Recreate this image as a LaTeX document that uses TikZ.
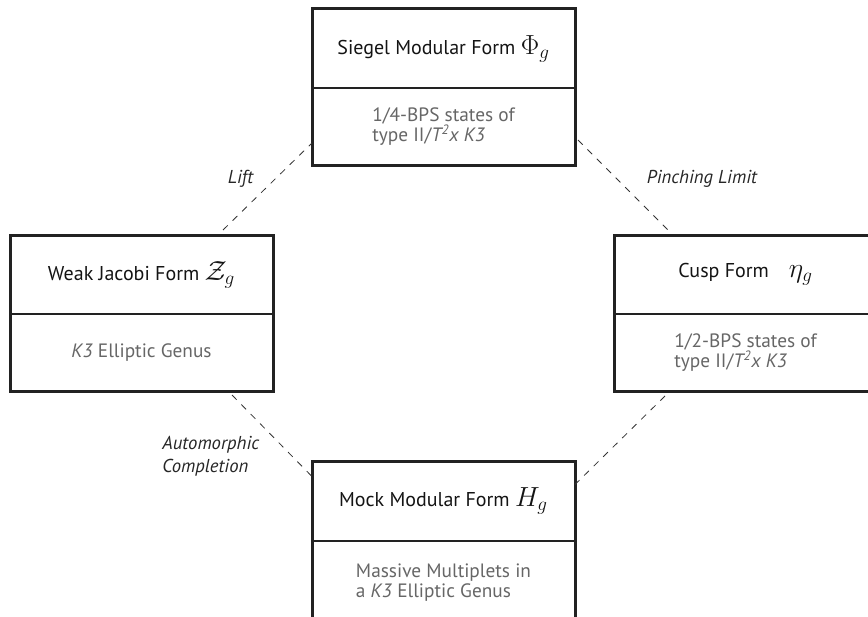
\documentclass[tikz,border=0pt]{standalone}
\usepackage{fontspec}
\setmainfont{PT Sans}
\usepackage{amsmath}
\usetikzlibrary{positioning}

\definecolor{boxline}{HTML}{222222}
\definecolor{bodytext}{HTML}{666666}
\newcommand{\formsym}[1]{{\fontsize{20}{20}\selectfont$#1$}}

\begin{document}
\begin{tikzpicture}[x=0.75pt,y=-0.75pt,
    head/.style={draw=boxline,line width=1.5pt,minimum width=197.25pt,minimum height=59.25pt,
      inner sep=0pt,outer sep=0pt,text=black!92,font=\fontsize{15}{18}\selectfont},
    body/.style={draw=boxline,line width=1.5pt,minimum width=197.25pt,minimum height=57.75pt,
      inner sep=0pt,outer sep=0pt,align=left,text=bodytext,font=\fontsize{14.5}{15.5}\selectfont},
    frame/.style={draw=boxline,line width=2.25pt},
    link/.style={draw=black!80,line width=0.6pt,dash pattern=on 5pt off 5pt},
    lbl/.style={font=\itshape\fontsize{14}{17}\selectfont,text=black!85,align=left}]
    \useasboundingbox (0,0) rectangle (868,617);
    \clip (0,0) rectangle (868,617);

    \node[head] (sieghead) at (443.5,48.5) {Siegel Modular Form \formsym{\Phi_g}};
    \node[body,below=0pt of sieghead] (siegbody) {1/4-BPS states of\\type II/\textit{T\textsuperscript{2}x K3}};

    \node[head] (jachead) at (141.5,274.5) {Weak Jacobi Form \formsym{\mathcal{Z}_g}};
    \node[body,below=0pt of jachead] (jacbody) {\textit{K3} Elliptic Genus};

    \node[head] (cusphead) at (745.5,274.5) {Cusp Form\quad\formsym{\eta_g}};
    \node[body,below=0pt of cusphead] (cuspbody) {1/2-BPS states of\\type II/\textit{T\textsuperscript{2}x K3}};

    \node[head] (mockhead) at (443.5,501) {Mock Modular Form \formsym{H_g}};
    \node[body,minimum height=63pt,below=0pt of mockhead] (mockbody) {Massive Multiplets in\\a \textit{K3} Elliptic Genus};

    % outer frames
    \draw[frame] (sieghead.north west) rectangle (siegbody.south east);
    \draw[frame] (jachead.north west) rectangle (jacbody.south east);
    \draw[frame] (cusphead.north west) rectangle (cuspbody.south east);
    \draw[frame] (mockhead.north west) rectangle (mockbody.south east);

    % dashed links
    \draw[link] ([shift={(-50,-5)}]jachead.north east) -- ([shift={(0,-22)}]siegbody.south west)
      node[lbl,pos=0.59,left=13pt] (lift) {Lift};
    \draw[link] ([shift={(3,-25)}]siegbody.south east) -- ([shift={(56,-3)}]cusphead.north west)
      node[lbl,pos=0.42,right=19pt] (pinch) {Pinching Limit};
    \draw[link] ([shift={(-41,4)}]jacbody.south east) -- ([shift={(0,15)}]mockhead.north west)
      node[lbl,pos=0.75,left=21pt] (autom) {Automorphic\\Completion};
    \draw[link] ([shift={(51,5)}]cuspbody.south west) -- ([shift={(0,23)}]mockhead.north east);

\end{tikzpicture}
\end{document}
